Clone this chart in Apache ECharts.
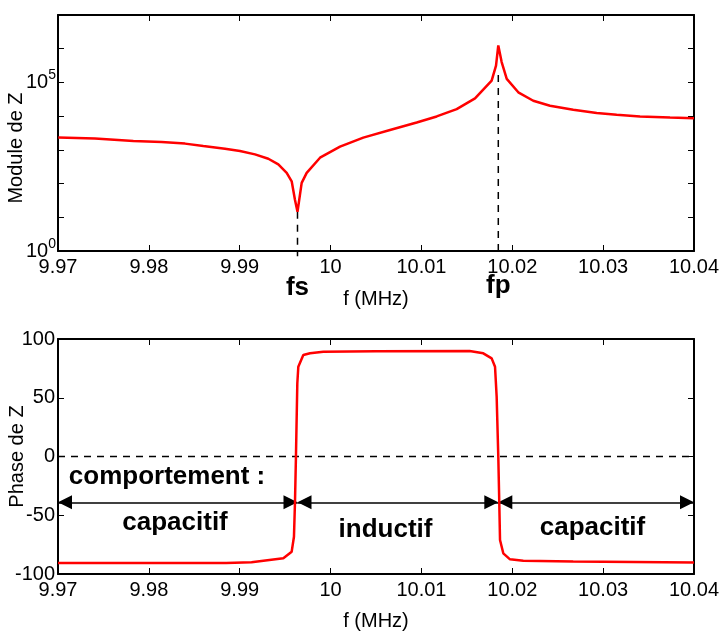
<!DOCTYPE html>
<html>
<head>
<meta charset="utf-8">
<script src="https://cdn.jsdelivr.net/npm/echarts@6/dist/echarts.min.js"></script>
<style>
  html, body { margin: 0; padding: 0; background: #fff; }
  #charts { width: 726px; height: 631px; }
</style>
</head>
<body>
<div id="charts"></div>
<script>
// module de Z (ohms) en fonction de f (MHz)
const magFreq = [9.97003, 9.97407, 9.97829, 9.98141, 9.98398, 9.98599, 9.98838, 9.99003, 9.99168,
  9.99315, 9.99425, 9.99517, 9.99572, 9.99608, 9.99636, 9.99682, 9.99737, 9.99884, 10.00104,
  10.0036, 10.00654, 10.00948, 10.01168, 10.01388, 10.0159, 10.01773, 10.01821, 10.01846,
  10.01883, 10.01939, 10.02066, 10.02231, 10.02415, 10.02671, 10.02929, 10.03149, 10.03406,
  10.03736, 10.04];
const magValues = [2312, 2158, 1832, 1710, 1531, 1297, 1086, 920, 735,
  546, 369, 208, 117, 33, 14.6, 105, 208, 585, 1247,
  2312, 3899, 6486, 9795, 16180, 33730, 113200, 317000, 1256000,
  400900, 127000, 50930, 28640, 20280, 15420, 12300, 10940, 9795,
  9141, 8710];

// phase de Z (degres)
const phaseFreq = [9.97, 9.9885, 9.9886, 9.9913, 9.9914, 9.9948, 9.99572, 9.99597, 9.99608,
  9.99619, 9.99634, 9.99645, 9.997, 9.99774, 9.9992, 10.005, 10.0153, 10.01681, 10.01773,
  10.0181, 10.01828, 10.01846, 10.01857, 10.01865, 10.01901, 10.01975, 10.02121, 10.0267,
  10.0268, 10.04];
const phaseValues = [-90.6, -90.6, -90.0, -90.0, -89.4, -86.6, -81, -68.3, -39.8,
  0, 62.3, 76.4, 86.4, 87.8, 89.2, 89.6, 89.8, 87.8, 83.5,
  76.4, 50.9, 0, -39.8, -71, -82.4, -87.5, -88.7, -89.4,
  -90.2, -90.2];

const fs = 9.99636;
const fp = 10.01846;
const fMin = 9.97, fMax = 10.04, fStep = 0.01;
const zMin = 1, zMax = 1e7, zLabelled = [0, 5];
const phMin = -100, phMax = 100, phStep = 50;
const arrowPhase = -39;
const zones = [
  { from: fMin, to: fs, text: 'capacitif', f: 9.98288, ph: -56.6 },
  { from: fs, to: fp, text: 'inductif', f: 10.00605, ph: -62.6 },
  { from: fp, to: fMax, text: 'capacitif', f: 10.02883, ph: -60.6 }
];
const behaviourNote = { text: 'comportement :', f: 9.982, ph: -17.2 };

const zip = (a, b) => a.map((v, i) => [v, b[i]]);
const font = 'Liberation Sans, Arial, sans-serif';
const axisLine = { show: true, onZero: false, lineStyle: { color: '#000', width: 2 } };
const tick = { show: true, inside: true, length: 6, lineStyle: { color: '#000', width: 1 } };
const fLabel = v => parseFloat(v.toFixed(2)).toString();

function freqAxis(grid, pos, labels, name) {
  return {
    type: 'value', gridIndex: grid, position: pos, min: fMin, max: fMax, interval: fStep,
    axisLine: axisLine, axisTick: tick, splitLine: { show: false },
    axisLabel: { show: labels, formatter: fLabel, color: '#000', fontSize: 20, fontFamily: font, margin: 6 },
    name: name, nameLocation: 'middle', nameGap: grid === 1 ? 37 : 38,
    nameTextStyle: { color: '#000', fontSize: 20, fontFamily: font }
  };
}

const myChart = echarts.init(document.getElementById('charts'));
const option = {
  animation: false,
  backgroundColor: '#fff',
  grid: [
    { left: 58, right: 32, top: 15, height: 236, outerBoundsMode: 'none', containLabel: false },
    { left: 58, right: 32, top: 339, height: 235, outerBoundsMode: 'none', containLabel: false }
  ],
  xAxis: [
    freqAxis(0, 'bottom', true, 'f (MHz)'),
    freqAxis(0, 'top', false, ''),
    freqAxis(1, 'bottom', true, 'f (MHz)'),
    freqAxis(1, 'top', false, '')
  ],
  yAxis: [
    {
      type: 'log', logBase: 10, gridIndex: 0, position: 'left', min: zMin, max: zMax, interval: 1,
      axisLine: axisLine, axisTick: tick, splitLine: { show: false }, minorTick: { show: false },
      axisLabel: {
        margin: 2, color: '#000', fontFamily: font,
        formatter: v => {
          const e = Math.round(Math.log10(v));
          return zLabelled.indexOf(e) >= 0 ? '{b|10}{s|' + e + '}' : '';
        },
        rich: {
          b: { fontSize: 20, lineHeight: 20, fontFamily: font, color: '#000', padding: [8, 0, 0, 0] },
          s: { fontSize: 14, lineHeight: 14, fontFamily: font, color: '#000', verticalAlign: 'top' }
        },
        padding: [0, 0, 8, 0]
      },
      name: 'Module de Z', nameLocation: 'middle', nameGap: 32, nameMoveOverlap: false,
      nameTextStyle: { color: '#000', fontSize: 20, fontFamily: font, padding: [0, 30, 0, 0] }
    },
    {
      type: 'log', logBase: 10, gridIndex: 0, position: 'right', min: zMin, max: zMax, interval: 1,
      axisLine: axisLine, axisTick: tick, splitLine: { show: false }, axisLabel: { show: false }
    },
    {
      type: 'value', gridIndex: 1, position: 'left', min: phMin, max: phMax, interval: phStep,
      axisLine: axisLine, axisTick: tick, splitLine: { show: false },
      axisLabel: { color: '#000', fontSize: 20, fontFamily: font, margin: 3 },
      name: 'Phase de Z', nameLocation: 'middle', nameGap: 31, nameMoveOverlap: false,
      nameTextStyle: { color: '#000', fontSize: 20, fontFamily: font }
    },
    {
      type: 'value', gridIndex: 1, position: 'right', min: phMin, max: phMax, interval: phStep,
      axisLine: axisLine, axisTick: tick, splitLine: { show: false }, axisLabel: { show: false }
    }
  ],
  series: [
    {
      type: 'line', xAxisIndex: 0, yAxisIndex: 0, clip: false, z: 2,
      symbol: 'circle', symbolSize: 0, showSymbol: true,
      lineStyle: { color: '#000', width: 1.5, type: [7, 6] }, itemStyle: { color: '#000' },
      data: [[fs, magValues[magFreq.indexOf(fs)]], {
        value: [fs, 0.7],
        label: { show: true, position: 'bottom', distance: 19, formatter: 'fs', color: '#000', fontSize: 26, fontWeight: 'bold', fontFamily: font }
      }]
    },
    {
      type: 'line', xAxisIndex: 0, yAxisIndex: 0, clip: false, z: 2,
      symbol: 'circle', symbolSize: 0, showSymbol: true,
      lineStyle: { color: '#000', width: 1.5, type: [7, 6] }, itemStyle: { color: '#000' },
      data: [[fp, 1.67e5], {
        value: [fp, zMin],
        label: { show: true, position: 'bottom', distance: 22, formatter: 'fp', color: '#000', fontSize: 26, fontWeight: 'bold', fontFamily: font }
      }]
    },
    {
      type: 'line', xAxisIndex: 0, yAxisIndex: 0, z: 5, symbol: 'none',
      lineStyle: { color: '#ff0000', width: 2.5 },
      data: zip(magFreq, magValues)
    },
    {
      type: 'line', xAxisIndex: 2, yAxisIndex: 2, z: 2, symbol: 'none',
      lineStyle: { color: '#000', width: 1.5, type: [7, 6] },
      data: [[fMin, 0], [fMax, 0]],
      markLine: {
        silent: true, animation: false,
        symbol: ['triangle', 'triangle'], symbolSize: 14, symbolOffset: [[0, 7], [0, 7]],
        lineStyle: { color: '#000', width: 1.5, type: 'solid' },
        label: { show: false },
        data: zones.map(z => [{ coord: [z.from, arrowPhase] }, { coord: [z.to, arrowPhase] }])
      },
      markPoint: {
        silent: true, animation: false, symbol: 'circle', symbolSize: 0,
        label: { show: true, position: 'inside', color: '#000', fontSize: 26, fontWeight: 'bold', fontFamily: font },
        data: zones.concat([behaviourNote]).map(z => ({ coord: [z.f, z.ph], value: z.text, label: { formatter: z.text } }))
      }
    },
    {
      type: 'line', xAxisIndex: 2, yAxisIndex: 2, z: 5, symbol: 'none',
      lineStyle: { color: '#ff0000', width: 2.5 },
      data: zip(phaseFreq, phaseValues)
    }
  ]
};
myChart.setOption(option);
</script>
</body>
</html>
